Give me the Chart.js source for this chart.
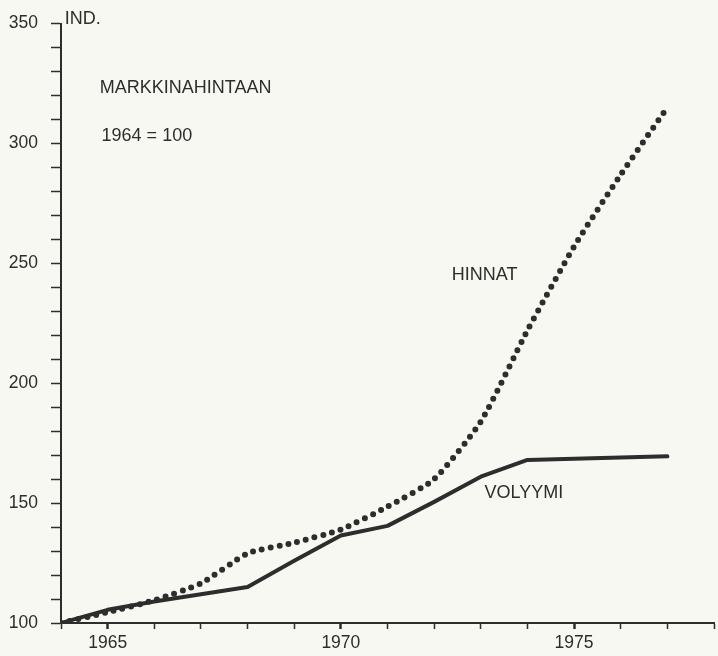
<!DOCTYPE html>
<html lang="fi">
<head>
<meta charset="UTF-8">
<title>Markkinahintaan 1964 = 100</title>
<script src="https://cdn.jsdelivr.net/npm/chart.js@4.4.0/dist/chart.umd.min.js"></script>
<style>
html,body{margin:0;padding:0;background:#f8f8f3}
#box{position:relative;width:718px;height:656px}
</style>
</head>
<body>
<div id="box"><canvas id="c"></canvas></div>
<script>
/* luvut luettu kuvasta */
const years   = [1964,1965,1966,1967,1968,1969,1970,1971,1972,1973,1974,1975,1976,1977];
const volyymi = [100,105.5,109,112,115,126,136.5,140.5,150.5,161,168,168.5,169,169.5];
const hinnat  = [100,104.5,109.5,116.5,129,133.5,139,148.5,160,184,222,257,287,315];
const yLabels = [100,150,200,250,300,350];
const xLabels = [1965,1970,1975];
const notes = [
  {text:'IND.',            x:1964.08, y:352},
  {text:'MARKKINAHINTAAN', x:1964.83, y:323},
  {text:'1964 = 100',      x:1964.87, y:303},
  {text:'HINNAT',          x:1972.38, y:245},
  {text:'VOLYYMI',         x:1973.08, y:154}
];

const ink = '#2d2d2d';
const font = '"Liberation Sans",Arial,sans-serif';

const notePlugin = {
  id:'notes',
  afterDraw(ch){
    const {ctx,scales:{x,y}} = ch;
    ctx.save();
    ctx.fillStyle = ink;
    ctx.font = '18px '+font;
    ctx.textBaseline = 'middle';
    ctx.textAlign = 'left';
    notes.forEach(n=>ctx.fillText(n.text, x.getPixelForValue(n.x), y.getPixelForValue(n.y)));
    ctx.restore();
  }
};

const bgPlugin = {
  id:'bg',
  beforeDraw(ch){
    const ctx = ch.ctx;
    ctx.save();
    ctx.fillStyle = '#f8f8f3';
    ctx.fillRect(0,0,ch.width,ch.height);
    ctx.restore();
  }
};

new Chart(document.getElementById('c'),{
  type:'line',
  data:{
    datasets:[
      {
        label:'HINNAT',
        data:years.map((v,i)=>({x:v,y:hinnat[i]})),
        borderColor:ink,borderWidth:6,
        borderDash:[0,9],borderCapStyle:'round',
        pointRadius:0,tension:0.2,fill:false
      },
      {
        label:'VOLYYMI',
        data:years.map((v,i)=>({x:v,y:volyymi[i]})),
        borderColor:ink,borderWidth:4,
        borderJoinStyle:'round',borderCapStyle:'round',
        pointRadius:0,tension:0,fill:false
      }
    ]
  },
  options:{
    responsive:true,maintainAspectRatio:false,animation:false,
    layout:{padding:{top:23,right:0,left:0,bottom:0}},
    plugins:{legend:{display:false},tooltip:{enabled:false}},
    scales:{
      x:{
        type:'linear',min:1964,max:1978,
        afterFit:s=>{s.height=33},
        border:{color:ink,width:2},
        grid:{drawOnChartArea:false,drawTicks:true,tickLength:6,color:ink,tickWidth:c=>xLabels.includes(c.tick&&c.tick.value)?2.5:1.5},
        ticks:{stepSize:1,autoSkip:false,maxRotation:0,color:ink,padding:4,
          font:{family:font,size:17.5},
          callback:v=>xLabels.includes(v)?String(v):''}
      },
      y:{
        min:100,max:350,
        afterFit:s=>{s.width=61},
        border:{color:ink,width:2},
        grid:{drawOnChartArea:false,drawTicks:true,tickLength:10,color:ink,tickWidth:1.5},
        ticks:{stepSize:10,autoSkip:false,color:ink,padding:13,
          font:{family:font,size:17.5},
          callback:v=>yLabels.includes(v)?String(v):''}
      }
    }
  },
  plugins:[bgPlugin,notePlugin]
});
</script>
</body>
</html>
